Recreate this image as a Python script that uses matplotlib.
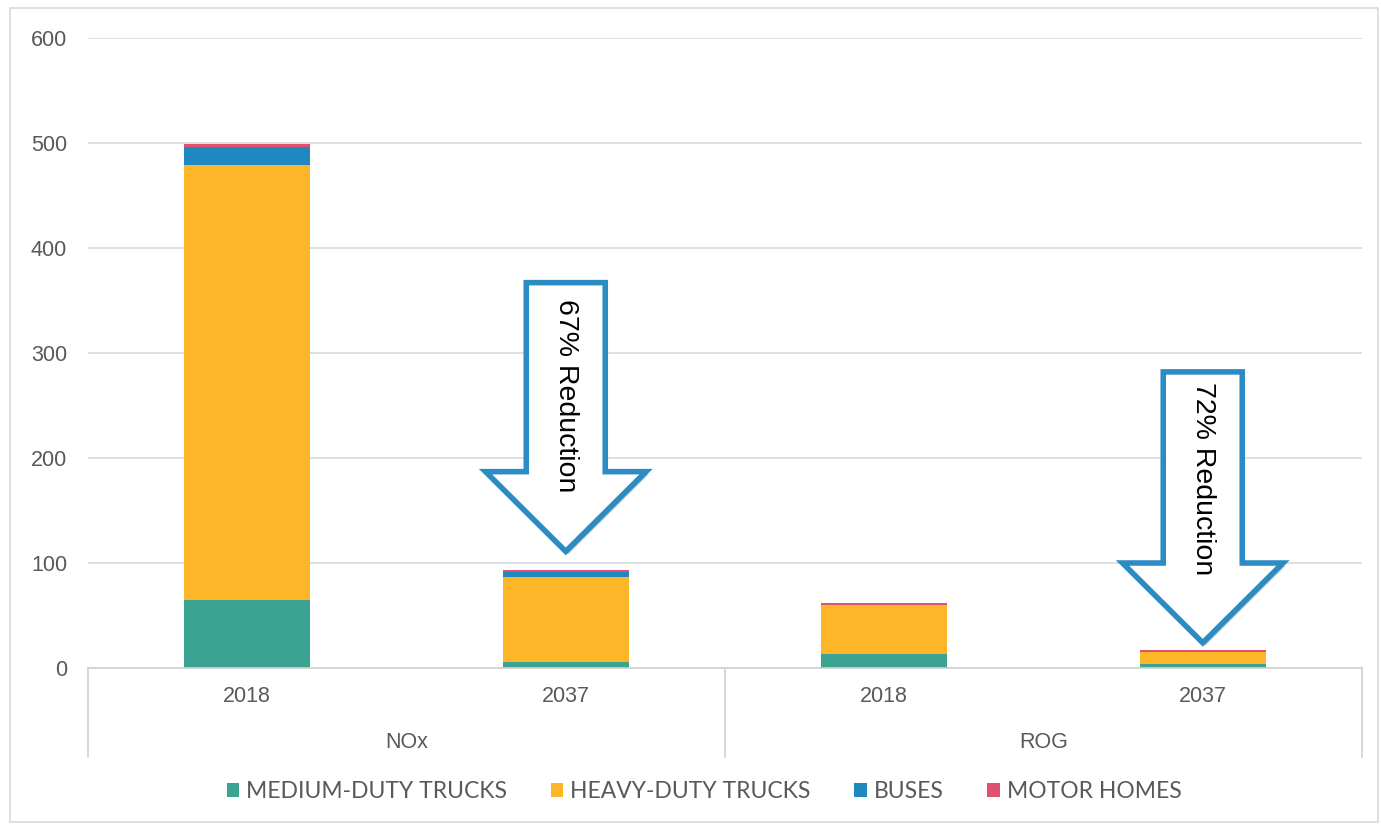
import numpy as np
import matplotlib.pyplot as plt
from matplotlib.patches import Polygon, Rectangle
from matplotlib import patheffects as pe

plt.rcParams['font.family'] = ['Lato', 'DejaVu Sans']

groups = ["NOx", "ROG"]
years = ["2018", "2037", "2018", "2037"]
series = ["MEDIUM-DUTY TRUCKS", "HEAVY-DUTY TRUCKS", "BUSES", "MOTOR HOMES"]
colors = ["#3BA391", "#FDB627", "#1F88C0", "#E0516F"]

medium = [65, 6, 13, 4]
heavy = [414, 81, 47, 11]
buses = [17, 4, 0.4, 0.4]
motor = [3, 2, 1.5, 1.5]

reductions = ["67% Reduction", "72% Reduction"]

fig = plt.figure(figsize=(13.81, 8.25), dpi=100)
ax = fig.add_axes([88 / 1381, 1 - 668 / 825, 1274 / 1381, 630 / 825])

x = np.arange(len(years))
bottom = np.zeros(len(years))
for vals, name, c in zip([medium, heavy, buses, motor], series, colors):
    ax.bar(x, vals, width=0.395, bottom=bottom, color=c, label=name, zorder=2)
    bottom += np.array(vals)

ax.set_xlim(-0.5, 3.5)
ax.set_ylim(0, 600)
ax.set_yticks(range(0, 601, 100))
ax.yaxis.grid(True, color="#d9d9d9", linewidth=1.2, zorder=0)
ax.tick_params(axis="y", length=0, pad=15, labelsize=15.5, labelcolor="#595959")
ax.set_yticklabels([str(v) for v in range(0, 601, 100)], family="Liberation Sans")
ax.set_xticks([])
for s in ax.spines.values():
    s.set_visible(False)

# multi-level category axis
tr = ax.get_xaxis_transform()
ax.plot([-0.5, 3.5], [0, 0], transform=tr, color="#d0d0d0", lw=1.2, clip_on=False)
for xv in [-0.5, 1.5, 3.5]:
    ax.plot([xv, xv], [0, -0.141], transform=tr, color="#d0d0d0", lw=1.2, clip_on=False)
for xi, yr in zip(x, years):
    ax.text(xi, -0.045, yr, transform=tr, ha="center", va="center",
            fontsize=15.5, color="#595959", family="Liberation Sans")
for gi, g in enumerate(groups):
    ax.text(gi * 2 + 0.5, -0.119, g, transform=tr, ha="center", va="center",
            fontsize=15.5, color="#595959", family="Liberation Sans")

# reduction arrows
def down_arrow(xc, top, shaft_bottom, tip, label, text_y):
    sw, hw = 0.124, 0.252
    pts = [(xc - sw, top), (xc + sw, top), (xc + sw, shaft_bottom),
           (xc + hw, shaft_bottom), (xc, tip), (xc - hw, shaft_bottom),
           (xc - sw, shaft_bottom)]
    poly = Polygon(pts, closed=True, facecolor="white", edgecolor="#2B8CC4",
                   lw=4, joinstyle="miter", zorder=5)
    poly.set_path_effects([pe.SimplePatchShadow(offset=(2, -2), shadow_rgbFace="#999999", alpha=0.5),
                           pe.Normal()])
    ax.add_patch(poly)
    ax.text(xc, text_y, label, rotation=-90, ha="center", va="center",
            fontsize=20.5, color="black", family="Liberation Sans", zorder=6)

down_arrow(1.0, 367, 187, 111, reductions[0], 259)
down_arrow(3.0, 282, 100, 24, reductions[1], 180)

leg = fig.legend(loc="center", bbox_to_anchor=(704 / 1381, 1 - 792 / 825), ncol=4,
                 frameon=False, fontsize=16.5, handlelength=0.55, handleheight=0.55,
                 handletextpad=0.3, columnspacing=1.9)
for t in leg.get_texts():
    t.set_color("#595959")

fig.patches.append(Rectangle((10 / 1381, 3 / 825), 1368 / 1381, 814 / 825,
                             transform=fig.transFigure, fill=False,
                             edgecolor="#d9d9d9", lw=1.2))

fig.savefig("out.png", dpi=100)
